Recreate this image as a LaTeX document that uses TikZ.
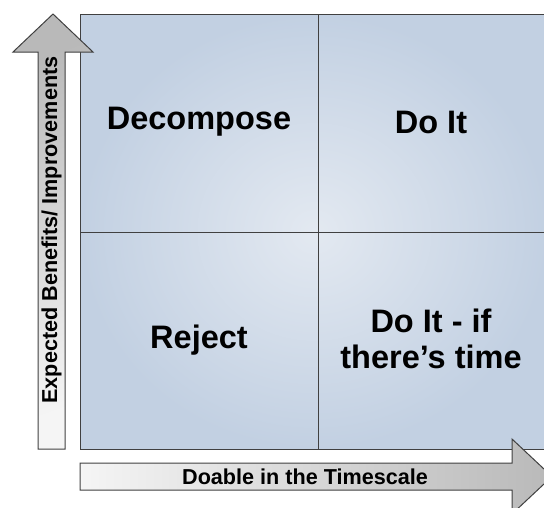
\documentclass[tikz,border=0pt]{standalone}
\usepackage{fontspec}
\setmainfont{Liberation Sans}
\usetikzlibrary{calc}

\definecolor{gridedge}{HTML}{C2D0E2}
\definecolor{gridmid}{HTML}{E3E9F1}
\definecolor{arrline}{HTML}{404040}

\begin{document}
\begin{tikzpicture}[x=1pt,y=-1pt,
    quad/.style={align=center,font=\fontsize{32.5}{36}\selectfont\bfseries},
    axis/.style={font=\fontsize{21.6}{24}\selectfont\bfseries},
    arr/.style={draw=arrline,line width=1pt,line join=miter}]
\useasboundingbox (0,0) rectangle (544,507);

% Grid
\shade[inner color=gridmid,outer color=gridedge] (80,14) rectangle (548,449);
\draw[arrline,line width=1pt] (80,14) rectangle (548,449);
\draw[arrline,line width=1pt] (318,14) -- (318,449);
\draw[arrline,line width=1pt] (80,232) -- (548,232);

% Quadrants
\node[quad] (DEC) at (199,122){Decompose};
\node[quad] (DOIT) at (431,122){Do It};
\node[quad] (REJ) at (199,340){Reject};
\node[quad] (DOITT) at (431,339){Do It - if\\there’s time};

% Axis arrows
\shade[arr,top color=gray!55,bottom color=gray!8,shading angle=20]
    (38,449) -- (38,52) -- (13,52) -- (53,14) -- (93,52) -- (65,52) -- (65,449) -- cycle;
\shade[arr,left color=gray!8,right color=gray!55]
    (80,463) -- (512,463) -- (512,439) -- (552,476.5) -- (512,514) -- (512,490) -- (80,490) -- cycle;

% Axis labels
\node[axis,rotate=90] (YLBL) at (51.5,230){Expected Benefits/ Improvements};
\node[axis] (XLBL) at (305,476.5){Doable in the Timescale};

\end{tikzpicture}
\end{document}
